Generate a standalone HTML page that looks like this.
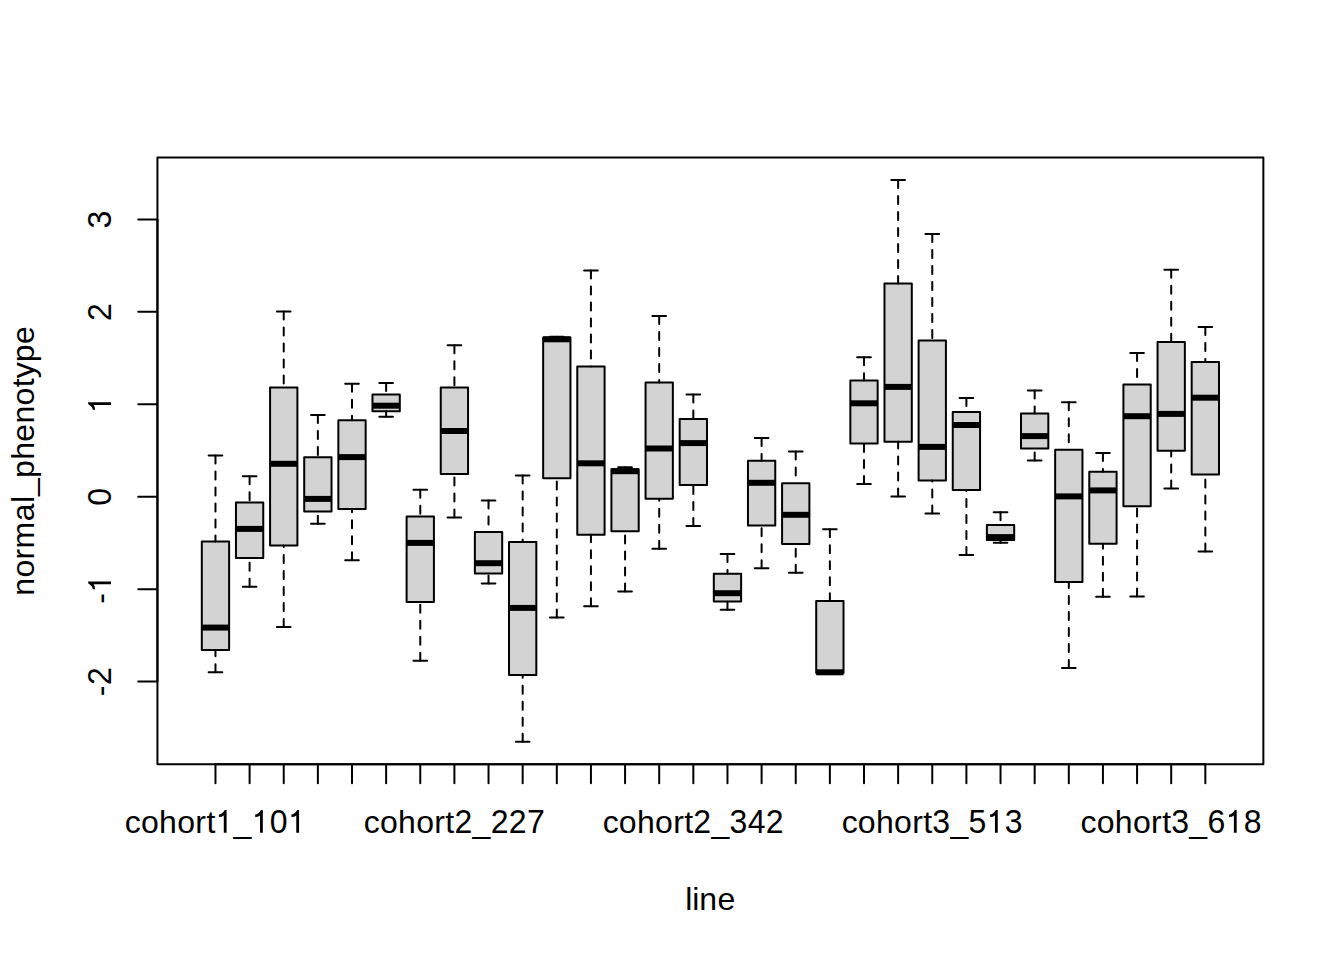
<!DOCTYPE html>
<html><head><meta charset="utf-8"><style>
html,body{margin:0;padding:0;background:#fff;}
svg{display:block;}
text{font-family:"Liberation Sans",sans-serif;font-size:32px;fill:#000;font-kerning:none;}
</style></head><body>
<svg width="1344" height="960" viewBox="0 0 1344 960">
<rect width="1344" height="960" fill="#fff"/>
<rect x="201.81" y="541.6" width="27.31" height="108.5" fill="#D3D3D3" stroke="#000" stroke-width="2" stroke-linejoin="round"/><line x1="201.81" y1="627.6" x2="229.12" y2="627.6" stroke="#000" stroke-width="6" stroke-linecap="butt"/><path d="M215.47 672.3V650.1M215.47 455.5V541.6" stroke="#000" stroke-width="2" stroke-dasharray="8 8" stroke-linecap="round" fill="none"/><path d="M208.64 672.3H222.29M208.64 455.5H222.29" stroke="#000" stroke-width="2" stroke-linecap="round" fill="none"/>
<rect x="235.95" y="502.5" width="27.31" height="55.4" fill="#D3D3D3" stroke="#000" stroke-width="2" stroke-linejoin="round"/><line x1="235.95" y1="528.9" x2="263.25" y2="528.9" stroke="#000" stroke-width="6" stroke-linecap="butt"/><path d="M249.6 586.7V557.9M249.6 476.3V502.5" stroke="#000" stroke-width="2" stroke-dasharray="8 8" stroke-linecap="round" fill="none"/><path d="M242.77 586.7H256.43M242.77 476.3H256.43" stroke="#000" stroke-width="2" stroke-linecap="round" fill="none"/>
<rect x="270.08" y="387.5" width="27.31" height="157.9" fill="#D3D3D3" stroke="#000" stroke-width="2" stroke-linejoin="round"/><line x1="270.08" y1="463.8" x2="297.39" y2="463.8" stroke="#000" stroke-width="6" stroke-linecap="butt"/><path d="M283.73 626.9V545.4M283.73 311.4V387.5" stroke="#000" stroke-width="2" stroke-dasharray="8 8" stroke-linecap="round" fill="none"/><path d="M276.91 626.9H290.56M276.91 311.4H290.56" stroke="#000" stroke-width="2" stroke-linecap="round" fill="none"/>
<rect x="304.21" y="457.2" width="27.31" height="54.2" fill="#D3D3D3" stroke="#000" stroke-width="2" stroke-linejoin="round"/><line x1="304.21" y1="498.9" x2="331.52" y2="498.9" stroke="#000" stroke-width="6" stroke-linecap="butt"/><path d="M317.87 523.8V511.4M317.87 415V457.2" stroke="#000" stroke-width="2" stroke-dasharray="8 8" stroke-linecap="round" fill="none"/><path d="M311.04 523.8H324.69M311.04 415H324.69" stroke="#000" stroke-width="2" stroke-linecap="round" fill="none"/>
<rect x="338.35" y="420.2" width="27.31" height="88.8" fill="#D3D3D3" stroke="#000" stroke-width="2" stroke-linejoin="round"/><line x1="338.35" y1="457.1" x2="365.65" y2="457.1" stroke="#000" stroke-width="6" stroke-linecap="butt"/><path d="M352 560.3V509M352 383.8V420.2" stroke="#000" stroke-width="2" stroke-dasharray="8 8" stroke-linecap="round" fill="none"/><path d="M345.17 560.3H358.83M345.17 383.8H358.83" stroke="#000" stroke-width="2" stroke-linecap="round" fill="none"/>
<rect x="372.48" y="394.5" width="27.31" height="16.8" fill="#D3D3D3" stroke="#000" stroke-width="2" stroke-linejoin="round"/><line x1="372.48" y1="405.7" x2="399.79" y2="405.7" stroke="#000" stroke-width="6" stroke-linecap="butt"/><path d="M386.13 416.8V411.3M386.13 383V394.5" stroke="#000" stroke-width="2" stroke-dasharray="8 8" stroke-linecap="round" fill="none"/><path d="M379.31 416.8H392.96M379.31 383H392.96" stroke="#000" stroke-width="2" stroke-linecap="round" fill="none"/>
<rect x="406.61" y="516.4" width="27.31" height="85.5" fill="#D3D3D3" stroke="#000" stroke-width="2" stroke-linejoin="round"/><line x1="406.61" y1="542.9" x2="433.92" y2="542.9" stroke="#000" stroke-width="6" stroke-linecap="butt"/><path d="M420.27 660.8V601.9M420.27 489.7V516.4" stroke="#000" stroke-width="2" stroke-dasharray="8 8" stroke-linecap="round" fill="none"/><path d="M413.44 660.8H427.09M413.44 489.7H427.09" stroke="#000" stroke-width="2" stroke-linecap="round" fill="none"/>
<rect x="440.75" y="387.4" width="27.31" height="86.6" fill="#D3D3D3" stroke="#000" stroke-width="2" stroke-linejoin="round"/><line x1="440.75" y1="431" x2="468.05" y2="431" stroke="#000" stroke-width="6" stroke-linecap="butt"/><path d="M454.4 517.4V474M454.4 345.3V387.4" stroke="#000" stroke-width="2" stroke-dasharray="8 8" stroke-linecap="round" fill="none"/><path d="M447.57 517.4H461.23M447.57 345.3H461.23" stroke="#000" stroke-width="2" stroke-linecap="round" fill="none"/>
<rect x="474.88" y="532" width="27.31" height="41.4" fill="#D3D3D3" stroke="#000" stroke-width="2" stroke-linejoin="round"/><line x1="474.88" y1="563.2" x2="502.19" y2="563.2" stroke="#000" stroke-width="6" stroke-linecap="butt"/><path d="M488.53 583.5V573.4M488.53 500.6V532" stroke="#000" stroke-width="2" stroke-dasharray="8 8" stroke-linecap="round" fill="none"/><path d="M481.71 583.5H495.36M481.71 500.6H495.36" stroke="#000" stroke-width="2" stroke-linecap="round" fill="none"/>
<rect x="509.01" y="541.9" width="27.31" height="133.1" fill="#D3D3D3" stroke="#000" stroke-width="2" stroke-linejoin="round"/><line x1="509.01" y1="607.9" x2="536.32" y2="607.9" stroke="#000" stroke-width="6" stroke-linecap="butt"/><path d="M522.67 741.8V675M522.67 475.4V541.9" stroke="#000" stroke-width="2" stroke-dasharray="8 8" stroke-linecap="round" fill="none"/><path d="M515.84 741.8H529.49M515.84 475.4H529.49" stroke="#000" stroke-width="2" stroke-linecap="round" fill="none"/>
<rect x="543.15" y="337.5" width="27.31" height="140.8" fill="#D3D3D3" stroke="#000" stroke-width="2" stroke-linejoin="round"/><line x1="543.15" y1="339.3" x2="570.45" y2="339.3" stroke="#000" stroke-width="6" stroke-linecap="butt"/><path d="M556.8 617.5V478.3M556.8 336.8V337.5" stroke="#000" stroke-width="2" stroke-dasharray="8 8" stroke-linecap="round" fill="none"/><path d="M549.97 617.5H563.63M549.97 336.8H563.63" stroke="#000" stroke-width="2" stroke-linecap="round" fill="none"/>
<rect x="577.28" y="366.6" width="27.31" height="168.2" fill="#D3D3D3" stroke="#000" stroke-width="2" stroke-linejoin="round"/><line x1="577.28" y1="463.3" x2="604.59" y2="463.3" stroke="#000" stroke-width="6" stroke-linecap="butt"/><path d="M590.93 606.2V534.8M590.93 270.4V366.6" stroke="#000" stroke-width="2" stroke-dasharray="8 8" stroke-linecap="round" fill="none"/><path d="M584.11 606.2H597.76M584.11 270.4H597.76" stroke="#000" stroke-width="2" stroke-linecap="round" fill="none"/>
<rect x="611.41" y="469.2" width="27.31" height="62.1" fill="#D3D3D3" stroke="#000" stroke-width="2" stroke-linejoin="round"/><line x1="611.41" y1="471.2" x2="638.72" y2="471.2" stroke="#000" stroke-width="6" stroke-linecap="butt"/><path d="M625.07 591.6V531.3M625.07 467.2V469.2" stroke="#000" stroke-width="2" stroke-dasharray="8 8" stroke-linecap="round" fill="none"/><path d="M618.24 591.6H631.89M618.24 467.2H631.89" stroke="#000" stroke-width="2" stroke-linecap="round" fill="none"/>
<rect x="645.55" y="382.4" width="27.31" height="116.3" fill="#D3D3D3" stroke="#000" stroke-width="2" stroke-linejoin="round"/><line x1="645.55" y1="448.5" x2="672.85" y2="448.5" stroke="#000" stroke-width="6" stroke-linecap="butt"/><path d="M659.2 548.8V498.7M659.2 316.1V382.4" stroke="#000" stroke-width="2" stroke-dasharray="8 8" stroke-linecap="round" fill="none"/><path d="M652.37 548.8H666.03M652.37 316.1H666.03" stroke="#000" stroke-width="2" stroke-linecap="round" fill="none"/>
<rect x="679.68" y="418.9" width="27.31" height="66" fill="#D3D3D3" stroke="#000" stroke-width="2" stroke-linejoin="round"/><line x1="679.68" y1="443.1" x2="706.99" y2="443.1" stroke="#000" stroke-width="6" stroke-linecap="butt"/><path d="M693.33 525.9V484.9M693.33 394.4V418.9" stroke="#000" stroke-width="2" stroke-dasharray="8 8" stroke-linecap="round" fill="none"/><path d="M686.51 525.9H700.16M686.51 394.4H700.16" stroke="#000" stroke-width="2" stroke-linecap="round" fill="none"/>
<rect x="713.81" y="573.7" width="27.31" height="27.7" fill="#D3D3D3" stroke="#000" stroke-width="2" stroke-linejoin="round"/><line x1="713.81" y1="593.2" x2="741.12" y2="593.2" stroke="#000" stroke-width="6" stroke-linecap="butt"/><path d="M727.47 609.7V601.4M727.47 553.9V573.7" stroke="#000" stroke-width="2" stroke-dasharray="8 8" stroke-linecap="round" fill="none"/><path d="M720.64 609.7H734.29M720.64 553.9H734.29" stroke="#000" stroke-width="2" stroke-linecap="round" fill="none"/>
<rect x="747.95" y="460.8" width="27.31" height="64.6" fill="#D3D3D3" stroke="#000" stroke-width="2" stroke-linejoin="round"/><line x1="747.95" y1="482.8" x2="775.25" y2="482.8" stroke="#000" stroke-width="6" stroke-linecap="butt"/><path d="M761.6 568.2V525.4M761.6 438.1V460.8" stroke="#000" stroke-width="2" stroke-dasharray="8 8" stroke-linecap="round" fill="none"/><path d="M754.77 568.2H768.43M754.77 438.1H768.43" stroke="#000" stroke-width="2" stroke-linecap="round" fill="none"/>
<rect x="782.08" y="483.2" width="27.31" height="60.8" fill="#D3D3D3" stroke="#000" stroke-width="2" stroke-linejoin="round"/><line x1="782.08" y1="514.8" x2="809.39" y2="514.8" stroke="#000" stroke-width="6" stroke-linecap="butt"/><path d="M795.73 572.7V544M795.73 451.4V483.2" stroke="#000" stroke-width="2" stroke-dasharray="8 8" stroke-linecap="round" fill="none"/><path d="M788.91 572.7H802.56M788.91 451.4H802.56" stroke="#000" stroke-width="2" stroke-linecap="round" fill="none"/>
<rect x="816.21" y="601.1" width="27.31" height="71.9" fill="#D3D3D3" stroke="#000" stroke-width="2" stroke-linejoin="round"/><line x1="816.21" y1="672.3" x2="843.52" y2="672.3" stroke="#000" stroke-width="6" stroke-linecap="butt"/><path d="M829.87 673V673M829.87 529.3V601.1" stroke="#000" stroke-width="2" stroke-dasharray="8 8" stroke-linecap="round" fill="none"/><path d="M823.04 673H836.69M823.04 529.3H836.69" stroke="#000" stroke-width="2" stroke-linecap="round" fill="none"/>
<rect x="850.35" y="380.4" width="27.31" height="63.2" fill="#D3D3D3" stroke="#000" stroke-width="2" stroke-linejoin="round"/><line x1="850.35" y1="403.3" x2="877.65" y2="403.3" stroke="#000" stroke-width="6" stroke-linecap="butt"/><path d="M864 484V443.6M864 357.2V380.4" stroke="#000" stroke-width="2" stroke-dasharray="8 8" stroke-linecap="round" fill="none"/><path d="M857.17 484H870.83M857.17 357.2H870.83" stroke="#000" stroke-width="2" stroke-linecap="round" fill="none"/>
<rect x="884.48" y="283.5" width="27.31" height="158.2" fill="#D3D3D3" stroke="#000" stroke-width="2" stroke-linejoin="round"/><line x1="884.48" y1="386.9" x2="911.79" y2="386.9" stroke="#000" stroke-width="6" stroke-linecap="butt"/><path d="M898.13 496.5V441.7M898.13 180.1V283.5" stroke="#000" stroke-width="2" stroke-dasharray="8 8" stroke-linecap="round" fill="none"/><path d="M891.31 496.5H904.96M891.31 180.1H904.96" stroke="#000" stroke-width="2" stroke-linecap="round" fill="none"/>
<rect x="918.61" y="340.6" width="27.31" height="139.8" fill="#D3D3D3" stroke="#000" stroke-width="2" stroke-linejoin="round"/><line x1="918.61" y1="446.9" x2="945.92" y2="446.9" stroke="#000" stroke-width="6" stroke-linecap="butt"/><path d="M932.27 513.4V480.4M932.27 234.1V340.6" stroke="#000" stroke-width="2" stroke-dasharray="8 8" stroke-linecap="round" fill="none"/><path d="M925.44 513.4H939.09M925.44 234.1H939.09" stroke="#000" stroke-width="2" stroke-linecap="round" fill="none"/>
<rect x="952.75" y="411.9" width="27.31" height="78.1" fill="#D3D3D3" stroke="#000" stroke-width="2" stroke-linejoin="round"/><line x1="952.75" y1="425" x2="980.05" y2="425" stroke="#000" stroke-width="6" stroke-linecap="butt"/><path d="M966.4 555.1V490M966.4 397.9V411.9" stroke="#000" stroke-width="2" stroke-dasharray="8 8" stroke-linecap="round" fill="none"/><path d="M959.57 555.1H973.23M959.57 397.9H973.23" stroke="#000" stroke-width="2" stroke-linecap="round" fill="none"/>
<rect x="986.88" y="525" width="27.31" height="15" fill="#D3D3D3" stroke="#000" stroke-width="2" stroke-linejoin="round"/><line x1="986.88" y1="537.1" x2="1014.19" y2="537.1" stroke="#000" stroke-width="6" stroke-linecap="butt"/><path d="M1000.53 542.7V540M1000.53 512.3V525" stroke="#000" stroke-width="2" stroke-dasharray="8 8" stroke-linecap="round" fill="none"/><path d="M993.71 542.7H1007.36M993.71 512.3H1007.36" stroke="#000" stroke-width="2" stroke-linecap="round" fill="none"/>
<rect x="1021.01" y="413.4" width="27.31" height="35" fill="#D3D3D3" stroke="#000" stroke-width="2" stroke-linejoin="round"/><line x1="1021.01" y1="436.1" x2="1048.32" y2="436.1" stroke="#000" stroke-width="6" stroke-linecap="butt"/><path d="M1034.67 460.5V448.4M1034.67 390.6V413.4" stroke="#000" stroke-width="2" stroke-dasharray="8 8" stroke-linecap="round" fill="none"/><path d="M1027.84 460.5H1041.49M1027.84 390.6H1041.49" stroke="#000" stroke-width="2" stroke-linecap="round" fill="none"/>
<rect x="1055.15" y="449.7" width="27.31" height="132.3" fill="#D3D3D3" stroke="#000" stroke-width="2" stroke-linejoin="round"/><line x1="1055.15" y1="496.4" x2="1082.45" y2="496.4" stroke="#000" stroke-width="6" stroke-linecap="butt"/><path d="M1068.8 667.9V582M1068.8 402.3V449.7" stroke="#000" stroke-width="2" stroke-dasharray="8 8" stroke-linecap="round" fill="none"/><path d="M1061.97 667.9H1075.63M1061.97 402.3H1075.63" stroke="#000" stroke-width="2" stroke-linecap="round" fill="none"/>
<rect x="1089.28" y="471.7" width="27.31" height="72" fill="#D3D3D3" stroke="#000" stroke-width="2" stroke-linejoin="round"/><line x1="1089.28" y1="490.4" x2="1116.59" y2="490.4" stroke="#000" stroke-width="6" stroke-linecap="butt"/><path d="M1102.93 596.7V543.7M1102.93 453.1V471.7" stroke="#000" stroke-width="2" stroke-dasharray="8 8" stroke-linecap="round" fill="none"/><path d="M1096.11 596.7H1109.76M1096.11 453.1H1109.76" stroke="#000" stroke-width="2" stroke-linecap="round" fill="none"/>
<rect x="1123.41" y="384.4" width="27.31" height="121.8" fill="#D3D3D3" stroke="#000" stroke-width="2" stroke-linejoin="round"/><line x1="1123.41" y1="416.2" x2="1150.72" y2="416.2" stroke="#000" stroke-width="6" stroke-linecap="butt"/><path d="M1137.07 596.4V506.2M1137.07 353.1V384.4" stroke="#000" stroke-width="2" stroke-dasharray="8 8" stroke-linecap="round" fill="none"/><path d="M1130.24 596.4H1143.89M1130.24 353.1H1143.89" stroke="#000" stroke-width="2" stroke-linecap="round" fill="none"/>
<rect x="1157.55" y="341.9" width="27.31" height="108.8" fill="#D3D3D3" stroke="#000" stroke-width="2" stroke-linejoin="round"/><line x1="1157.55" y1="413.9" x2="1184.85" y2="413.9" stroke="#000" stroke-width="6" stroke-linecap="butt"/><path d="M1171.2 488.5V450.7M1171.2 269.7V341.9" stroke="#000" stroke-width="2" stroke-dasharray="8 8" stroke-linecap="round" fill="none"/><path d="M1164.37 488.5H1178.03M1164.37 269.7H1178.03" stroke="#000" stroke-width="2" stroke-linecap="round" fill="none"/>
<rect x="1191.68" y="361.9" width="27.31" height="112.6" fill="#D3D3D3" stroke="#000" stroke-width="2" stroke-linejoin="round"/><line x1="1191.68" y1="397.7" x2="1218.99" y2="397.7" stroke="#000" stroke-width="6" stroke-linecap="butt"/><path d="M1205.33 551.6V474.5M1205.33 327V361.9" stroke="#000" stroke-width="2" stroke-dasharray="8 8" stroke-linecap="round" fill="none"/><path d="M1198.51 551.6H1212.16M1198.51 327H1212.16" stroke="#000" stroke-width="2" stroke-linecap="round" fill="none"/>
<path d="M157.44 681.56V219.41M138.24 681.56H157.44M138.24 589.13H157.44M138.24 496.7H157.44M138.24 404.27H157.44M138.24 311.84H157.44M138.24 219.41H157.44" stroke="#000" stroke-width="2" stroke-linecap="round" fill="none"/>
<path d="M215.47 764.16H1205.33M215.47 764.16V783.36M249.6 764.16V783.36M283.73 764.16V783.36M317.87 764.16V783.36M352 764.16V783.36M386.13 764.16V783.36M420.27 764.16V783.36M454.4 764.16V783.36M488.53 764.16V783.36M522.67 764.16V783.36M556.8 764.16V783.36M590.93 764.16V783.36M625.07 764.16V783.36M659.2 764.16V783.36M693.33 764.16V783.36M727.47 764.16V783.36M761.6 764.16V783.36M795.73 764.16V783.36M829.87 764.16V783.36M864 764.16V783.36M898.13 764.16V783.36M932.27 764.16V783.36M966.4 764.16V783.36M1000.53 764.16V783.36M1034.67 764.16V783.36M1068.8 764.16V783.36M1102.93 764.16V783.36M1137.07 764.16V783.36M1171.2 764.16V783.36M1205.33 764.16V783.36" stroke="#000" stroke-width="2" stroke-linecap="round" fill="none"/>
<rect x="157.44" y="157.44" width="1105.92" height="606.72" fill="none" stroke="#000" stroke-width="2" stroke-linejoin="round"/>
<text x="124.86 140.97 159.09 177.21 195.33 206.41 233.59" y="832.8">cohort_</text><path transform="translate(215.47 832.8) scale(0.015625 -0.015547)" d="M712 0L532 0L532 1120Q420 1020 222 1020L222 1170Q420 1190 595 1471L712 1471Z"/><path transform="translate(251.71 832.8) scale(0.015625 -0.015547)" d="M712 0L532 0L532 1120Q420 1020 222 1020L222 1170Q420 1190 595 1471L712 1471Z"/><text transform="translate(269.83 832.8) scale(1 1.044)">0</text><path transform="translate(287.95 832.8) scale(0.015625 -0.015547)" d="M712 0L532 0L532 1120Q420 1020 222 1020L222 1170Q420 1190 595 1471L712 1471Z"/><text x="363.8 379.9 398.02 416.15 434.27 445.34 472.52" y="832.8">cohort_</text><text transform="translate(454.4 832.8) scale(1 1.044)">2</text><text transform="translate(490.64 832.8) scale(1 1.044)">2</text><text transform="translate(508.76 832.8) scale(1 1.044)">2</text><text transform="translate(526.88 832.8) scale(1 1.044)">7</text><text x="602.73 618.84 636.96 655.08 673.2 684.27 711.45" y="832.8">cohort_</text><text transform="translate(693.33 832.8) scale(1 1.044)">2</text><text transform="translate(729.57 832.8) scale(1 1.044)">3</text><text transform="translate(747.7 832.8) scale(1 1.044)">4</text><text transform="translate(765.82 832.8) scale(1 1.044)">2</text><text x="841.66 857.77 875.89 894.01 912.13 923.21 950.39" y="832.8">cohort_</text><text transform="translate(932.27 832.8) scale(1 1.044)">3</text><text transform="translate(968.51 832.8) scale(1 1.044)">5</text><path transform="translate(986.63 832.8) scale(0.015625 -0.015547)" d="M712 0L532 0L532 1120Q420 1020 222 1020L222 1170Q420 1190 595 1471L712 1471Z"/><text transform="translate(1004.75 832.8) scale(1 1.044)">3</text><text x="1080.6 1096.7 1114.82 1132.95 1151.07 1162.14 1189.32" y="832.8">cohort_</text><text transform="translate(1171.2 832.8) scale(1 1.044)">3</text><text transform="translate(1207.44 832.8) scale(1 1.044)">6</text><path transform="translate(1225.56 832.8) scale(0.015625 -0.015547)" d="M712 0L532 0L532 1120Q420 1020 222 1020L222 1170Q420 1190 595 1471L712 1471Z"/><text transform="translate(1243.68 832.8) scale(1 1.044)">8</text>
<g transform="translate(111 681.56) rotate(-90)"><text x="-14.6" y="0">-</text><text transform="translate(-3.52 0) scale(1 1.044)">2</text></g><g transform="translate(111 589.13) rotate(-90)"><text x="-14.6" y="0">-</text><path transform="translate(-3.52 0) scale(0.015625 -0.015547)" d="M712 0L532 0L532 1120Q420 1020 222 1020L222 1170Q420 1190 595 1471L712 1471Z"/></g><g transform="translate(111 496.7) rotate(-90)"><text transform="translate(-9.06 0) scale(1 1.044)">0</text></g><g transform="translate(111 404.27) rotate(-90)"><path transform="translate(-9.06 0) scale(0.015625 -0.015547)" d="M712 0L532 0L532 1120Q420 1020 222 1020L222 1170Q420 1190 595 1471L712 1471Z"/></g><g transform="translate(111 311.84) rotate(-90)"><text transform="translate(-9.06 0) scale(1 1.044)">2</text></g><g transform="translate(111 219.41) rotate(-90)"><text transform="translate(-9.06 0) scale(1 1.044)">3</text></g>
<text x="685.23 692.28 699.33 717.45" y="909.7">line</text>
<g transform="translate(34 460.8) rotate(-90)"><text x="-134.9 -116.78 -98.66 -87.58 -60.4 -42.28 -35.23 -17.11 1.01 19.13 37.25 55.37 73.49 82.55 98.66 116.78" y="0">normal_phenotype</text></g>
</svg>
</body></html>
